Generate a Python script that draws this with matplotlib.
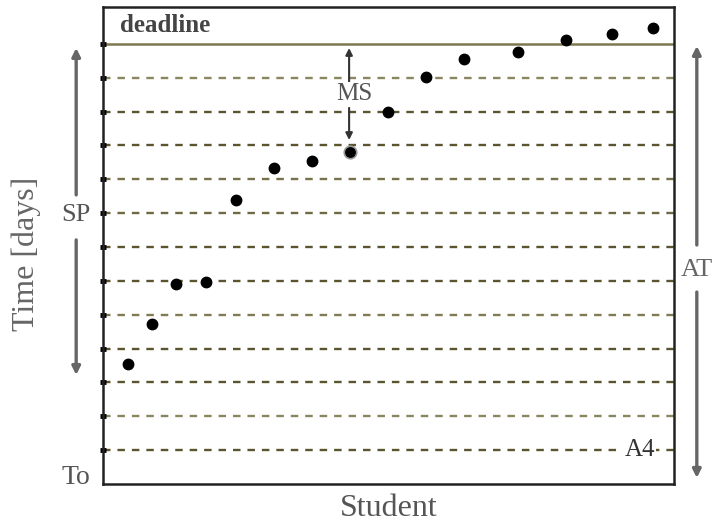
import matplotlib.pyplot as plt

plt.rcParams['font.family'] = ['Liberation Serif', 'DejaVu Serif']
plt.rcParams['lines.scale_dashes'] = False

# students (horizontal position, 0-100 across the box) and finishing time
student_x = [4.4, 8.6, 12.8, 18.0, 23.3, 29.9, 36.6, 43.3, 49.9, 56.6, 63.2, 72.7, 81.1, 89.1, 96.3]
time_days = [3.55, 4.73, 5.91, 5.97, 8.39, 9.34, 9.54, 9.81, 10.99, 12.02, 12.56, 12.76, 13.12, 13.29, 13.47]

grid_days = [1, 2, 3, 4, 5, 6, 7, 8, 9, 10, 11, 12]
grid_cols = ['#5a5530', '#8a8660', '#5a5530', '#5a5530', '#807b55', '#5a5530',
             '#5a5530', '#6f6a45', '#77724c', '#5a5530', '#5a5530', '#8a8660']
deadline = 13
ms_index = 7  # student marked with MS

fig = plt.figure(figsize=(7.12, 5.27), dpi=100)
ax = fig.add_axes([0.1447, 0.0816, 0.8019, 0.9051])
ax.set_xlim(0, 100)
ax.set_ylim(0, 14.09)

for d, c in zip(grid_days, grid_cols):
    ax.axhline(d, color=c, lw=1.7, dashes=(5.4, 5.0), zorder=1)
ax.axhline(deadline, color='#7d7850', lw=1.8, zorder=1)

ax.plot(student_x, time_days, 'o', color='black', ms=7.5, zorder=3)
ax.plot(student_x[ms_index], time_days[ms_index], 'o', color='black', ms=9,
        mec='#999999', mew=1.2, zorder=4)

for s in ax.spines.values():
    s.set_color('#222222')
    s.set_linewidth(1.8)

ax.set_xticks([])
ax.set_yticks(grid_days + [deadline])
ax.set_yticklabels([])
ax.tick_params(axis='y', direction='inout', length=5, width=3.5, color='black')

ax.text(3, 13.55, 'deadline', fontsize=18, fontweight='bold', color='#444444',
        ha='left', va='center')
ax.text(-4.7, 0.2, 'To', fontsize=20, color='#555555', ha='center', va='center',
        clip_on=False)
ax.text(-13.4, 6.8, 'Time [days]', fontsize=23, color='#666666', rotation=90,
        ha='center', va='center', clip_on=False)
ax.text(50, -0.72, 'Student', fontsize=23, color='#555555', ha='center', va='center',
        clip_on=False)

arrow_grey = dict(arrowstyle='-|>', color='#666666', lw=2.4, mutation_scale=12,
                  shrinkA=0, shrinkB=0)
arrow_dark = dict(arrowstyle='-|>', color='#333333', lw=1.5, mutation_scale=10,
                  shrinkA=0, shrinkB=0)

# SP arrow
ax.annotate('', xy=(-4.7, 12.88), xytext=(-4.7, 8.54), arrowprops=arrow_grey,
            annotation_clip=False)
ax.annotate('', xy=(-4.7, 3.22), xytext=(-4.7, 7.21), arrowprops=arrow_grey,
            annotation_clip=False)
ax.text(-4.7, 7.95, 'SP', fontsize=19, color='#555555', ha='center', va='center',
        clip_on=False)

# AT arrow
ax.annotate('', xy=(104.0, 12.94), xytext=(104.0, 7.06), arrowprops=arrow_grey,
            annotation_clip=False)
ax.annotate('', xy=(104.0, 0.18), xytext=(104.0, 5.67), arrowprops=arrow_grey,
            annotation_clip=False)
ax.text(104.0, 6.32, 'AT', fontsize=19, color='#666666', ha='center', va='center',
        clip_on=False)

# MS arrow
ax.annotate('', xy=(43.1, 12.88), xytext=(43.1, 11.88), arrowprops=arrow_dark)
ax.annotate('', xy=(43.1, 10.16), xytext=(43.1, 11.11), arrowprops=arrow_dark)
ax.text(44.0, 11.52, 'MS', fontsize=18, color='#555555', ha='center', va='center',
        bbox=dict(fc='white', ec='none', pad=1), zorder=5)

ax.text(94.0, 1.0, 'A4', fontsize=18, color='#333333', ha='center', va='center',
        bbox=dict(fc='white', ec='none', pad=1), zorder=5)

fig.savefig('out.png', dpi=100)
